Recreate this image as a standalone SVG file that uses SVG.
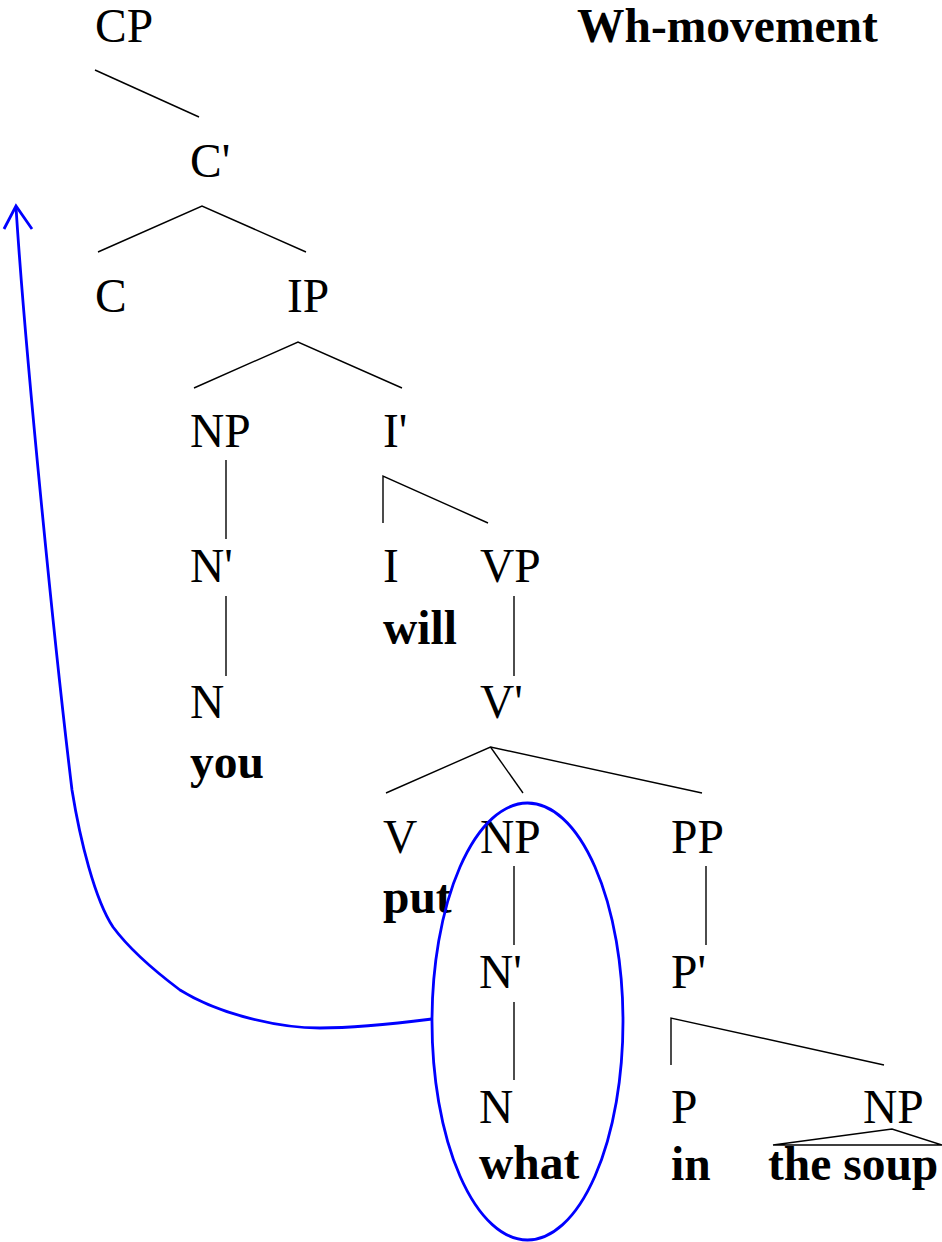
<svg xmlns="http://www.w3.org/2000/svg" width="942" height="1242" viewBox="0 0 942 1242">
<style>
.n{font-size:47.5px;fill:#000}
.w{font-size:47.5px;font-weight:bold;fill:#000}
.e{stroke:#000;stroke-width:1.4;fill:none}
.b{stroke:#0000ff;stroke-width:2.8;fill:none}
</style>
<rect width="942" height="1242" fill="#fff"/>
<g font-family="Liberation Serif, Times New Roman, serif">
<g id="title"><text class="w" x="577" y="42">Wh-movement</text></g>
<g id="CP"><text class="n" x="95" y="42">CP</text></g>
<g id="C1"><text class="n" x="190" y="177">C'</text></g>
<g id="C"><text class="n" x="95" y="312">C</text></g>
<g id="IP"><text class="n" x="287" y="312">IP</text></g>
<g id="NP-subj"><text class="n" x="190" y="447">NP</text></g>
<g id="I1"><text class="n" x="383" y="447">I'</text></g>
<g id="N1-subj"><text class="n" x="190" y="582">N'</text></g>
<g id="I"><text class="n" x="383" y="582">I</text><text class="w" x="383" y="644">will</text></g>
<g id="VP"><text class="n" x="480" y="582">VP</text></g>
<g id="N-subj"><text class="n" x="190" y="718">N</text><text class="w" x="190" y="778">you</text></g>
<g id="V1"><text class="n" x="480" y="718">V'</text></g>
<g id="V"><text class="n" x="383" y="853">V</text><text class="w" x="383" y="913">put</text></g>
<g id="NP-obj"><text class="n" x="480" y="853">NP</text></g>
<g id="PP"><text class="n" x="671" y="853">PP</text></g>
<g id="N1-obj"><text class="n" x="479" y="988">N'</text></g>
<g id="P1"><text class="n" x="671" y="988">P'</text></g>
<g id="N-obj"><text class="n" x="479" y="1123">N</text><text class="w" x="479" y="1179">what</text></g>
<g id="P"><text class="n" x="671" y="1123">P</text><text class="w" x="671" y="1180">in</text></g>
<g id="NP-pp"><text class="n" x="863" y="1123">NP</text><text class="w" x="768" y="1180">the soup</text></g>
</g>
<g id="connectors">
<path class="e" d="M95,70 L199,117"/>
<path class="e" d="M98,252 L202,206 L306,252"/>
<path class="e" d="M194,388 L298,342 L402,388"/>
<path class="e" d="M226,460 L226,539"/>
<path class="e" d="M383,523 L383,476 L488,523"/>
<path class="e" d="M226,596 L226,676"/>
<path class="e" d="M514,596 L514,676"/>
<path class="e" d="M386,793 L490.5,747 L702,793"/>
<path class="e" d="M490.5,747 L523,793"/>
<path class="e" d="M514,866 L514,945"/>
<path class="e" d="M706,866 L706,945"/>
<path class="e" d="M514,1002 L514,1080"/>
<path class="e" d="M671,1065 L671,1018 L884,1065"/>
<path class="e" d="M773,1145 L892,1129 L942,1145 Z"/>
<ellipse id="wh-ring" class="b" cx="527.5" cy="1021.5" rx="95.5" ry="218.5"/>
<path class="b" d="M432,1019 C400,1023 360,1028 320,1028 C280,1028 220,1015 180,990 C160,975 130,950 113,927 C95,900 80,840 72,790 C55,650 25,350 16,207"/>
<path class="b" d="M4,229 L16,206 L32,229"/>
</g>
</svg>
